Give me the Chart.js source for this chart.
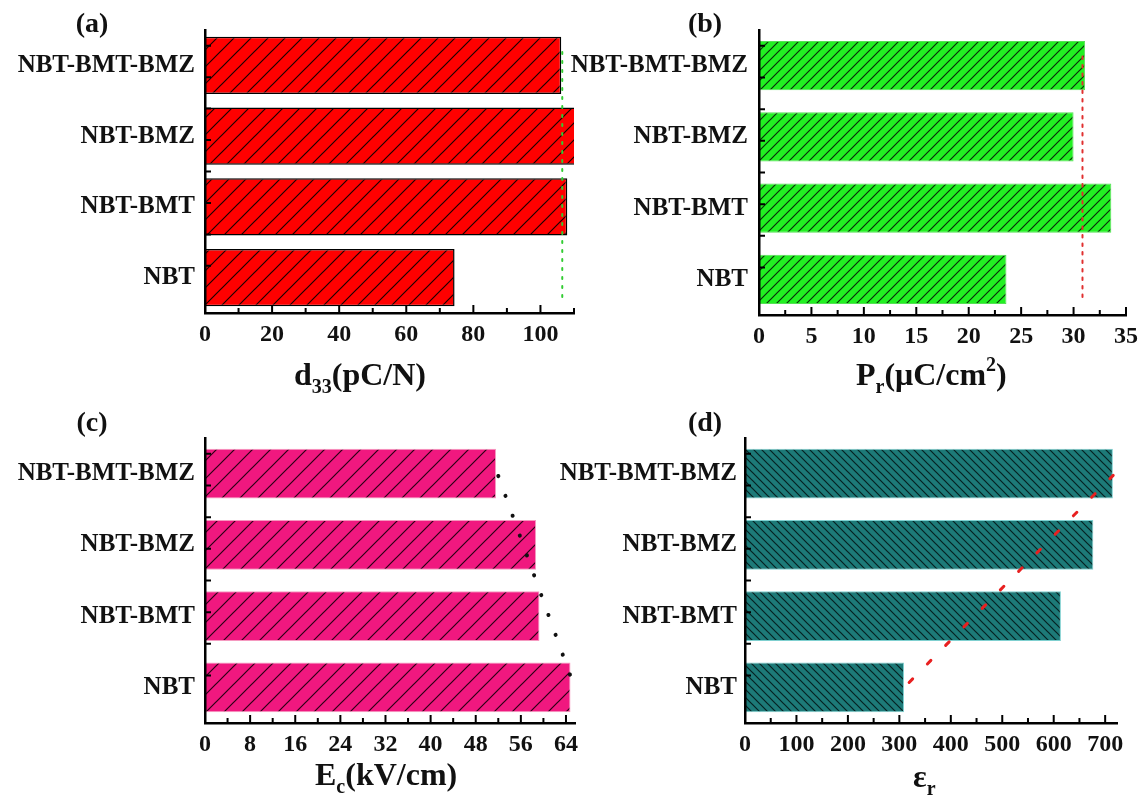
<!doctype html>
<html lang="en">
  <head>
    <title>NBT ceramics</title>
    <meta charset="utf-8" />
    <style>
      body { margin: 0; background: #fff; }
      #wrap { position: relative; width: 1145px; height: 803px; }
      canvas { position: absolute; left: 0; top: 0; }
    </style>
  </head>

  <body>
    <div id="wrap">
      <canvas id="pa" width="1145" height="803"></canvas>
      <canvas id="pb" width="1145" height="803"></canvas>
      <canvas id="pc" width="1145" height="803"></canvas>
      <canvas id="pd" width="1145" height="803"></canvas>
    </div>

    <script src="https://cdn.jsdelivr.net/npm/chart.js@4.4.1/dist/chart.umd.min.js"></script>
    <script>
      const samples = ["NBT-BMT-BMZ", "NBT-BMZ", "NBT-BMT", "NBT"];

      const d33 = [106.2, 111, 108.0, 74.4];
      const pr = [31.1, 30.0, 33.6, 23.6];
      const ec = [51.6, 58.7, 59.3, 64.8];
      const er = [715, 677, 614, 309];

      // guide / trend lines: [value, category position]
      const d33Guide = [[106.5, -0.4], [106.5, 3.5]];
      const prGuide = [[30.85, -0.33], [30.85, 3.5]];
      const ecTrend = [[52.0, -0.15], [64.8, 3.01]];
      const erTrend = [[319, 3.11], [715.6, -0.16]];

      const SERIF = '"Liberation Serif", "Times New Roman", serif';

      function hatch(bg, line, s, back) {
        const c = document.createElement("canvas");
        c.width = c.height = s;
        const g = c.getContext("2d");
        g.fillStyle = bg;
        g.fillRect(0, 0, s, s);
        g.strokeStyle = line;
        g.lineWidth = 1.2;
        g.beginPath();
        if (!back) {
          g.moveTo(0, s); g.lineTo(s, 0);
          g.moveTo(-1, 1); g.lineTo(1, -1);
          g.moveTo(s - 1, s + 1); g.lineTo(s + 1, s - 1);
        } else {
          g.moveTo(0, 0); g.lineTo(s, s);
          g.moveTo(s - 1, -1); g.lineTo(s + 1, 1);
          g.moveTo(-1, s - 1); g.lineTo(1, s + 1);
        }
        g.stroke();
        return g.createPattern(c, "repeat");
      }

      // minor ticks, panel letter and axis title with sub/superscripts
      const decor = {
        id: "decor",
        afterDraw(chart, args, o) {
          const ctx = chart.ctx;
          const x = chart.scales.x;
          const yl = chart.scales.yl;
          const a = chart.chartArea;
          ctx.save();
          ctx.strokeStyle = "#000";
          ctx.lineWidth = 2;
          ctx.beginPath();
          for (let v = 0; v <= o.max + 1e-9; v += o.minor) {
            const px = x.getPixelForValue(v);
            const r = v / o.major;
            const major = Math.abs(r - Math.round(r)) < 1e-6;
            ctx.moveTo(px, a.bottom);
            ctx.lineTo(px, a.bottom - (major ? 8 : 5));
          }
          for (let k = -0.5; k <= 3; k += 0.5) {
            const py = yl.getPixelForValue(k);
            ctx.moveTo(a.left, py);
            ctx.lineTo(a.left + 6, py);
          }
          ctx.stroke();

          ctx.fillStyle = "#111";
          ctx.font = "bold 28px " + SERIF;
          ctx.textAlign = "center";
          ctx.textBaseline = "middle";
          ctx.fillText(o.letter, o.letterX, o.letterY);

          ctx.textAlign = "left";
          ctx.textBaseline = "alphabetic";
          let cx = o.titleX;
          o.title.forEach((p) => {
            const size = p.s ? 20 : 32;
            ctx.font = "bold " + size + "px " + SERIF;
            const dy = p.s === "sub" ? 8 : p.s === "sup" ? -14 : 0;
            ctx.fillText(p.t, cx, o.titleY + dy);
            cx += ctx.measureText(p.t).width;
          });
          ctx.restore();
        },
      };

      function panel(id, p) {
        const YW = 190, XH = 40;
        new Chart(document.getElementById(id), {
          type: "bar",
          data: {
            labels: samples,
            datasets: [
              {
                type: "line",
                data: p.line.map(([x, y]) => ({ x, y })),
                xAxisID: "x",
                yAxisID: "yl",
                borderColor: p.lineColor,
                borderWidth: p.lineWidth,
                borderDash: p.dash,
                borderCapStyle: "round",
                pointRadius: 0,
                fill: false,
                clip: false,
                order: 0,
              },
              {
                type: "bar",
                data: p.values,
                xAxisID: "x",
                yAxisID: "y",
                grouped: false,
                backgroundColor: p.fill,
                borderColor: p.border,
                borderWidth: p.borderWidth,
                barPercentage: p.barPct,
                categoryPercentage: 1,
                order: 1,
              },
            ],
          },
          options: {
            indexAxis: "y",
            responsive: false,
            animation: false,
            devicePixelRatio: 1,
            layout: {
              padding: {
                left: p.area[0] - YW,
                top: p.area[1],
                right: 1145 - p.area[2],
                bottom: 803 - p.area[3] - XH,
              },
            },
            plugins: {
              legend: { display: false },
              tooltip: { enabled: false },
              decor: {
                max: p.max, major: p.major, minor: p.minor,
                letter: p.letter, letterX: p.letterPos[0], letterY: p.letterPos[1],
                title: p.title, titleX: p.titlePos[0], titleY: p.titlePos[1],
              },
            },
            scales: {
              x: {
                type: "linear",
                position: "bottom",
                min: 0,
                max: p.max,
                grid: { display: false, drawTicks: false },
                border: { display: true, color: "#000", width: 2.5, z: 1 },
                ticks: {
                  stepSize: p.major,
                  includeBounds: false,
                  padding: 7,
                  color: "#111",
                  font: { family: SERIF, size: 24, weight: "bold" },
                  maxRotation: 0,
                },
                afterFit(s) { s.height = XH; },
              },
              y: {
                type: "category",
                position: "left",
                grid: { display: false, drawTicks: false },
                border: { display: true, color: "#000", width: 2.5, z: 1 },
                ticks: {
                  padding: p.labelPad,
                  color: "#111",
                  font: { family: SERIF, size: 25, weight: "bold" },
                },
                afterFit(s) { s.width = YW; },
              },
              yl: {
                type: "linear",
                position: "right",
                display: false,
                min: -0.5,
                max: 3.5,
                reverse: true,
              },
            },
          },
          plugins: [decor],
        });
      }

      panel("pa", {
        area: [205, 30, 574, 313], max: 110, major: 20, minor: 10,
        values: d33, fill: hatch("#ff0000", "#1a0000", 17, false),
        border: "#000", borderWidth: 1.5, barPct: 0.81, labelPad: 10,
        line: d33Guide, lineColor: "#33cc33", lineWidth: 2, dash: [2, 7],
        letter: "(a)", letterPos: [92, 25],
        title: [{ t: "d" }, { t: "33", s: "sub" }, { t: "(pC/N)" }], titlePos: [294, 385],
      });

      panel("pb", {
        area: [759, 30, 1128, 315], max: 35, major: 5, minor: 2.5,
        values: pr, fill: hatch("#22f022", "#0a300a", 10, false),
        border: "#55e055", borderWidth: 1, barPct: 0.69, labelPad: 11,
        line: prGuide, lineColor: "#e03030", lineWidth: 2, dash: [2.5, 6],
        letter: "(b)", letterPos: [705, 25],
        title: [{ t: "P" }, { t: "r", s: "sub" }, { t: "(μC/cm" }, { t: "2", s: "sup" }, { t: ")" }],
        titlePos: [856, 385],
      });

      panel("pc", {
        area: [205, 438, 575, 723], max: 65.6, major: 8, minor: 4,
        values: ec, fill: hatch("#f0187f", "#2a0015", 18, false),
        border: "#f59ac0", borderWidth: 1, barPct: 0.7, labelPad: 10,
        line: ecTrend, lineColor: "#111", lineWidth: 4, dash: [0.1, 21],
        letter: "(c)", letterPos: [92, 424],
        title: [{ t: "E" }, { t: "c", s: "sub" }, { t: "(kV/cm)" }], titlePos: [315, 785],
      });

      panel("pd", {
        area: [745, 438, 1117, 723], max: 723, major: 100, minor: 50,
        values: er, fill: hatch("#1d7a78", "#062222", 8, true),
        border: "#7fd0d0", borderWidth: 1, barPct: 0.7, labelPad: 8,
        line: erTrend, lineColor: "#e82020", lineWidth: 3, dash: [5, 21],
        letter: "(d)", letterPos: [705, 424],
        title: [{ t: "ε" }, { t: "r", s: "sub" }], titlePos: [913, 787],
      });
    </script>
  </body>
</html>
